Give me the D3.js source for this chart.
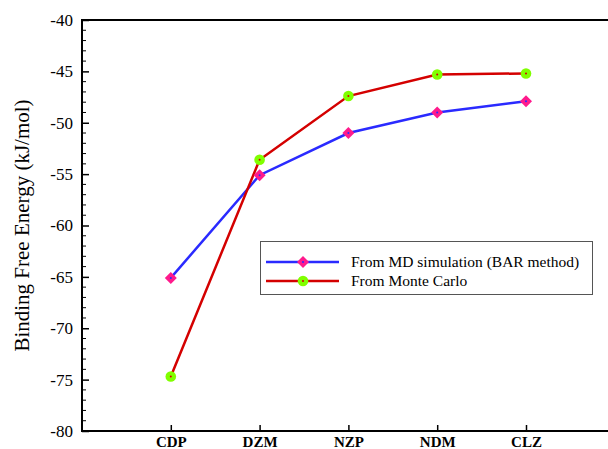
<!DOCTYPE html>
<html><head><meta charset="utf-8">
<script src="https://cdn.jsdelivr.net/npm/d3@7"></script>
<style>body{margin:0;background:#fff}svg{display:block}text{font-family:"Liberation Serif","Times New Roman",serif}</style>
</head><body>
<script>
const categories = ["CDP","DZM","NZP","NDM","CLZ"];
const mdValues = [-65.1, -55.1, -51.0, -49.0, -47.9];
const mcValues = [-74.7, -53.6, -47.4, -45.3, -45.2];
const yTicks = [-80,-75,-70,-65,-60,-55,-50,-45,-40];
const seriesNames = ["From MD simulation (BAR method)", "From Monte Carlo"];

const W = 608, H = 449;
const svg = d3.select("body").append("svg").attr("width", W).attr("height", H);
const L = 82, T = 20, B = 431;
const y = d3.scaleLinear().domain([-80,-40]).range([B, T]);
const x = d3.scalePoint().domain(["", ...categories, " "]).range([L, L + 6*88.8]);
const serif = "'Liberation Serif', 'Times New Roman', serif";

// minor y ticks
const minor = d3.range(-80, -39, 1).filter(v => v % 5 !== 0);
svg.append("g").selectAll("line").data(minor).join("line")
  .attr("x1", L).attr("x2", L + 4).attr("y1", d => y(d)).attr("y2", d => y(d))
  .attr("stroke", "#000").attr("stroke-width", 1);

const yAxis = svg.append("g").attr("transform", `translate(${L},0)`)
  .call(d3.axisLeft(y).tickValues(yTicks).tickSize(-7).tickPadding(9).tickFormat(d => String(d)));
yAxis.attr("font-family", null).attr("font-size", null);
yAxis.select(".domain").remove();
yAxis.selectAll(".tick line").attr("stroke-width", 1.5);
yAxis.selectAll("text").style("font-family", serif).style("font-size", "17px").attr("fill", "#000");

const xAxis = svg.append("g").attr("transform", `translate(0,${B})`)
  .call(d3.axisBottom(x).tickValues(categories).tickSize(-6).tickPadding(5));
xAxis.attr("font-family", null).attr("font-size", null);
xAxis.select(".domain").remove();
xAxis.selectAll(".tick line").attr("stroke-width", 1.5);
xAxis.selectAll("text").style("font-family", serif).style("font-size", "15px")
  .style("font-weight", "bold").attr("fill", "#000");

// frame lines
svg.append("line").attr("x1", L).attr("x2", W).attr("y1", T).attr("y2", T).attr("stroke", "#000").attr("stroke-width", 2);
svg.append("line").attr("x1", L).attr("x2", W).attr("y1", B).attr("y2", B).attr("stroke", "#000").attr("stroke-width", 2);
svg.append("line").attr("x1", L).attr("x2", L).attr("y1", T-1).attr("y2", B+1).attr("stroke", "#000").attr("stroke-width", 2);

svg.append("text").attr("transform", `translate(29,${(T+B)/2}) rotate(-90)`)
  .attr("text-anchor", "middle").style("font-family", serif).style("font-size", "21px")
  .text("Binding Free Energy (kJ/mol)");

const line = d3.line().x((d,i) => x(categories[i])).y(d => y(d));
const colors = [{line:"#2a2aff", mark:"#ff1a8c", dot:"#2a2aff"}, {line:"#d40000", mark:"#80ff00", dot:"#d40000"}];
const data = [mdValues, mcValues];

function marker(g, i, cx, cy) {
  if (i === 0) {
    g.append("path").attr("d", `M${cx},${cy-6}L${cx+6},${cy}L${cx},${cy+6}L${cx-6},${cy}Z`).attr("fill", colors[0].mark);
  } else {
    g.append("circle").attr("cx", cx).attr("cy", cy).attr("r", 5.3).attr("fill", colors[1].mark);
  }
  g.append("circle").attr("cx", cx).attr("cy", cy).attr("r", 1).attr("fill", colors[i].dot);
}

data.forEach((vals, i) => {
  svg.append("path").datum(vals).attr("d", line).attr("fill", "none")
    .attr("stroke", colors[i].line).attr("stroke-width", 2.5);
});
data.forEach((vals, i) => {
  const g = svg.append("g");
  vals.forEach((v, j) => marker(g, i, x(categories[j]), y(v)));
});

// legend
const lg = svg.append("g");
lg.append("rect").attr("x", 260.5).attr("y", 241.5).attr("width", 332).attr("height", 53)
  .attr("fill", "#fff").attr("stroke", "#555").attr("stroke-width", 1);
seriesNames.forEach((name, i) => {
  const ly = 262 + i*19;
  lg.append("line").attr("x1", 266).attr("x2", 339).attr("y1", ly).attr("y2", ly)
    .attr("stroke", colors[i].line).attr("stroke-width", 2.5);
  marker(lg, i, 303, ly);
  lg.append("text").attr("x", 351).attr("y", ly).attr("dy", "0.35em")
    .style("font-family", serif).style("font-size", "15.5px").text(name);
});
</script>
</body></html>
